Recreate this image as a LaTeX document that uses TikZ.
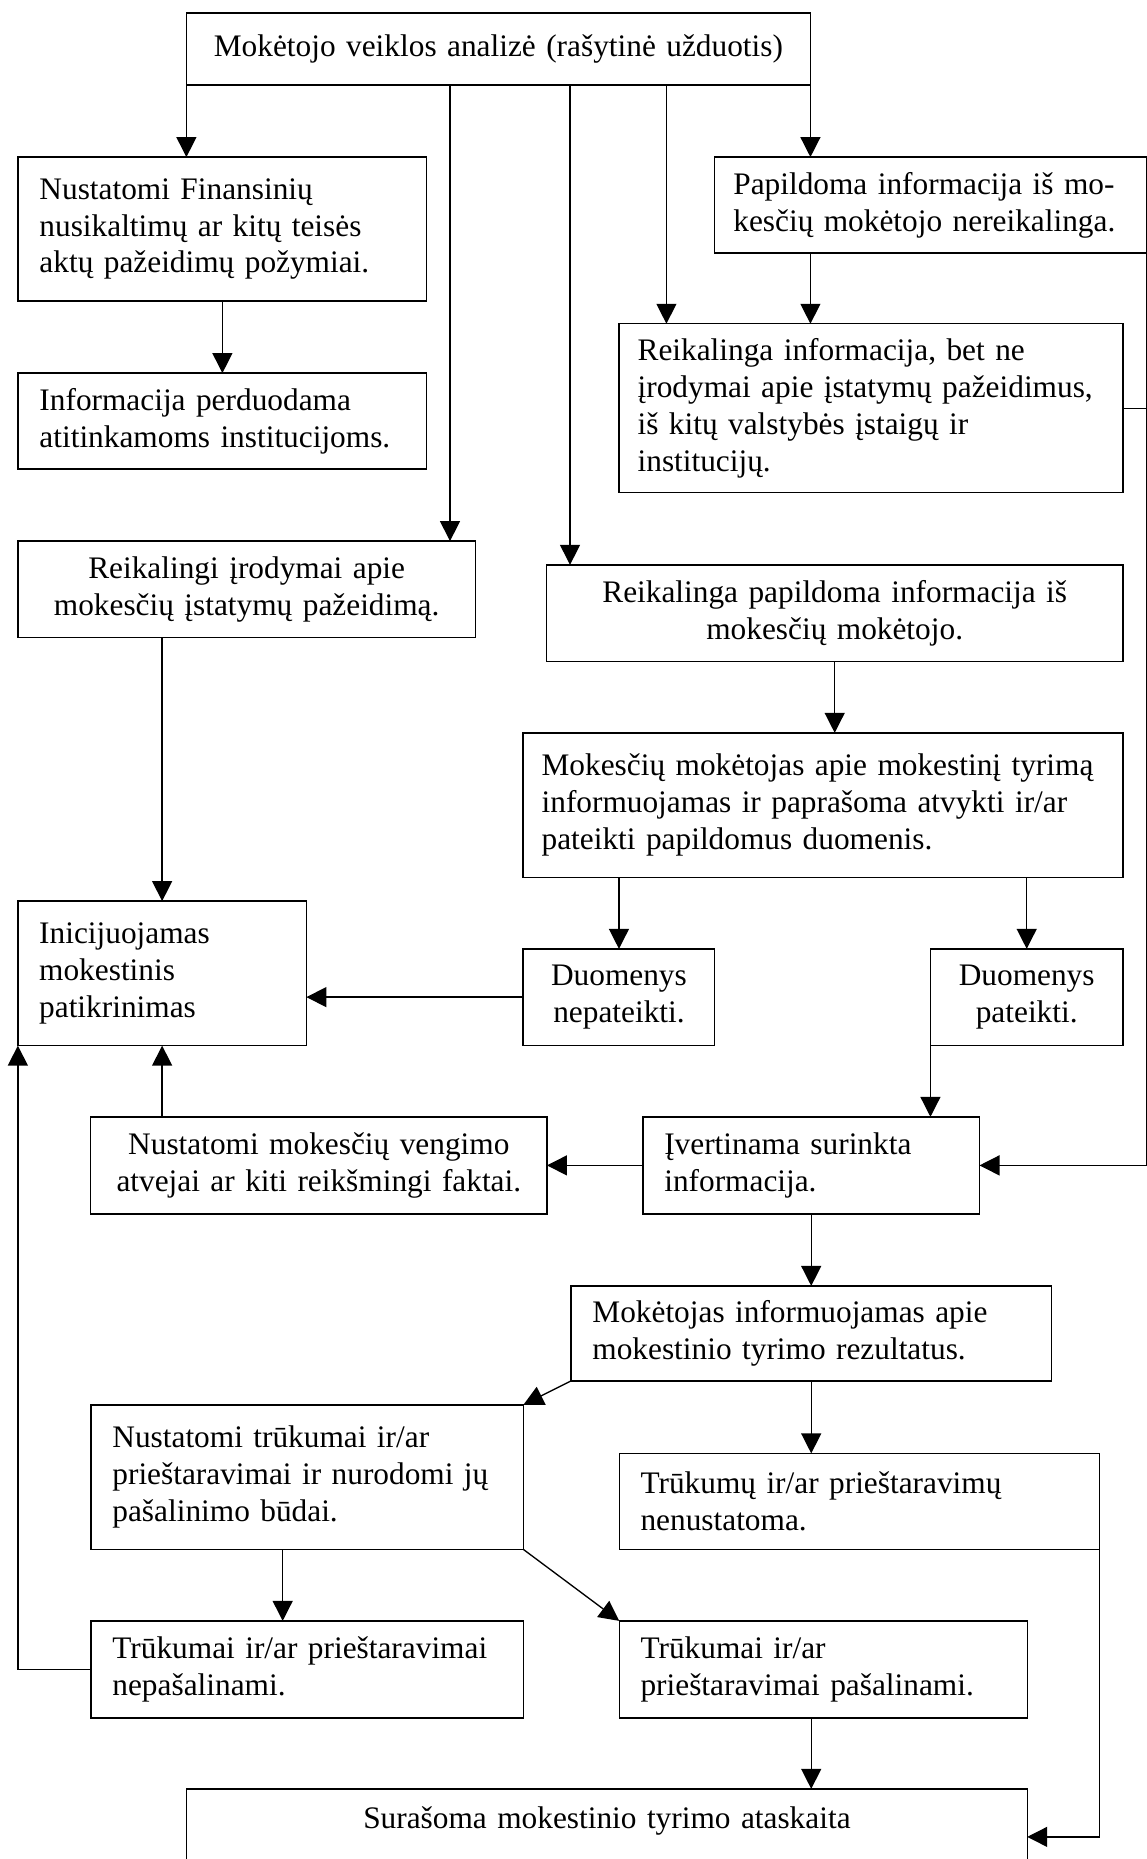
\documentclass[tikz,border=0pt]{standalone}
\usepackage{fontspec}
\setmainfont{Liberation Serif}
\usepackage{tikz}
\usetikzlibrary{arrows.meta,positioning}
\tikzset{box/.style={draw, line width=0.5pt, outer sep=0pt, inner xsep=8pt, inner ysep=3pt, align=left, font=\fontsize{11.75}{13.8}\selectfont}}
\tikzset{line/.style={draw, line width=0.5pt, -{Triangle[length=7.5pt,width=7.5pt]}}}

\begin{document}
\begin{tikzpicture}
				\useasboundingbox (0,0) rectangle (430.1pt,-697.1pt);
				\node [box, align=center, text width=218pt, minimum height=27pt] (analize) at (186.9pt,-18.4pt) {Mokėtojo veiklos analizė (rašytinė užduotis)};
				\node [box, text width=137.2pt, minimum height=54pt, below=27pt of analize, xshift=-103.5pt]     (pozymiai)  {Nustatomi Finansinių\\ nusikaltimų ar kitų teisės\\ aktų pažeidimų požymiai.};
				\node [box, text width=137.2pt, minimum height=36pt, below=27pt of pozymiai]                     (perduoda)  {Informacija perduodama\\ atitinkamoms institucijoms.};
				\node [box, inner xsep=7pt, text width=147.8pt, minimum height=36pt, below=27pt of analize, xshift=162pt]  (nereik) {Papildoma informacija iš mo-\\kesčių mokėtojo nereikalinga.};
				\node [box, inner xsep=7pt, text width=175pt, minimum height=63.4pt, below=26.5pt of nereik, xshift=-22.3pt] (kitos) {Reikalinga informacija, bet ne\\ įrodymai apie įstatymų pažeidimus,\\ iš kitų valstybės įstaigų ir\\ institucijų.};
				\node [box, align=center, text width=155.6pt, minimum height=36.2pt, below=27pt of perduoda, xshift=9.1pt]   (irodymai)  {Reikalingi įrodymai apie\\ mokesčių įstatymų pažeidimą.};
				\node [box, align=center, text width=200.2pt, minimum height=36.2pt, below=27pt of kitos, xshift=-13.6pt]    (papild)    {Reikalinga papildoma informacija iš\\ mokesčių mokėtojo.};
				\node [box, inner xsep=7pt, text width=211pt, minimum height=54.2pt, below=26.8pt of papild, xshift=-4.4pt] (prasoma) {Mokesčių mokėtojas apie mokestinį tyrimą\\ informuojamas ir paprašoma atvykti ir/ar\\ pateikti papildomus duomenis.};
				\node [box, text width=92.2pt, minimum height=54.2pt, below=98.8pt of irodymai, xshift=-31.7pt]  (patikr)    {Inicijuojamas\\ mokestinis\\ patikrinimas};
				\node [box, align=center, text width=55.9pt, minimum height=36.2pt, below=26.8pt of prasoma, xshift=-76.5pt] (nepat)     {Duomenys\\ nepateikti.};
				\node [box, align=center, text width=56.2pt, minimum height=36.2pt, below=26.8pt of prasoma, xshift=76.4pt]  (pat)       {Duomenys\\ pateikti.};
				\node [box, text width=110.2pt, minimum height=36.4pt, below=26.8pt of pat, xshift=-80.8pt]      (ivert)     {Įvertinama surinkta\\ informacija.};
				\node [box, align=center, text width=155.1pt, minimum height=36.4pt, left=36pt of ivert]         (vengimo)   {Nustatomi mokesčių vengimo\\ atvejai ar kiti reikšmingi faktai.};
				\node [box, text width=164.1pt, minimum height=35.6pt, below=27pt of ivert]                      (rezult)    {Mokėtojas informuojamas apie\\ mokestinio tyrimo rezultatus.};
				\node [box, text width=146.1pt, minimum height=54.2pt, below=9pt of rezult, xshift=-189pt]       (trukumai)  {Nustatomi trūkumai ir/ar\\ prieštaravimai ir nurodomi jų\\ pašalinimo būdai.};
				\node [box, text width=164pt, minimum height=36pt, below=27.2pt of rezult, xshift=18pt]          (nenust)    {Trūkumų ir/ar prieštaravimų\\ nenustatoma.};
				\node [box, text width=146.1pt, minimum height=36.4pt, below=26.8pt of trukumai]                 (nepasal)   {Trūkumai ir/ar prieštaravimai\\ nepašalinami.};
				\node [box, text width=137pt, minimum height=36.4pt, below=26.8pt of nenust, xshift=-13.5pt]     (pasal)     {Trūkumai ir/ar\\ prieštaravimai pašalinami.};
				\node [box, align=center, text width=299.2pt, inner ysep=6pt, text height=9pt, text depth=60pt, below=26.6pt of pasal, xshift=-81.1pt] (ataskaita) {Surašoma mokestinio tyrimo ataskaita};
				%
				\coordinate (s1) at ([xshift=98.85pt]analize.south west);
				\coordinate (s2) at ([xshift=143.85pt]analize.south west);
				\coordinate (s3) at ([xshift=180pt]analize.south west);
				\coordinate (t1) at ([xshift=-9.2pt]trukumai.south);
				\coordinate (r1) at ([yshift=-18pt]ataskaita.north east);
				%
				\path [line] (analize.south west) -- (analize.south west |- pozymiai.north);
				\path [line] (s1) -- (s1 |- irodymai.north);
				\path [line] (s2) -- (s2 |- papild.north);
				\path [line] (s3) -- (s3 |- kitos.north);
				\path [line] (analize.south east) -- (analize.south east |- nereik.north);
				\path [line] (pozymiai) -- (perduoda);
				\path [line] (analize.south east |- nereik.south) -- (analize.south east |- kitos.north);
				\draw [line width=0.5pt] (kitos.east) -- (kitos.east -| nereik.south east);
				\path [line] (nereik.south east) |- (ivert.east);
				\path [line] (irodymai.south -| patikr.north) -- (patikr.north);
				\path [line] (papild.south) -- (papild.south |- prasoma.north);
				\path [line] (prasoma.south -| nepat.north) -- (nepat.north);
				\path [line] (prasoma.south -| pat.north) -- (pat.north);
				\path [line] (nepat) -- (nepat -| patikr.east);
				\path [line] (pat.south west) -- (pat.south west |- ivert.north);
				\path [line] (ivert) -- (vengimo);
				\path [line] (vengimo.north -| patikr.south) -- (patikr.south);
				\path [line] (ivert.south) -- (ivert.south |- rezult.north);
				\path [line] (rezult.south west) -- (trukumai.north east);
				\path [line] (rezult.south) -- (rezult.south |- nenust.north);
				\path [line] (t1) -- (t1 |- nepasal.north);
				\path [line] (trukumai.south east) -- (pasal.north west);
				\path [line] (nepasal.west) -| (patikr.south west);
				\path [line] (pasal.south -| rezult.south) -- (rezult.south |- ataskaita.north);
				\path [line] (nenust.south east) |- (r1);
\end{tikzpicture}
\end{document}
